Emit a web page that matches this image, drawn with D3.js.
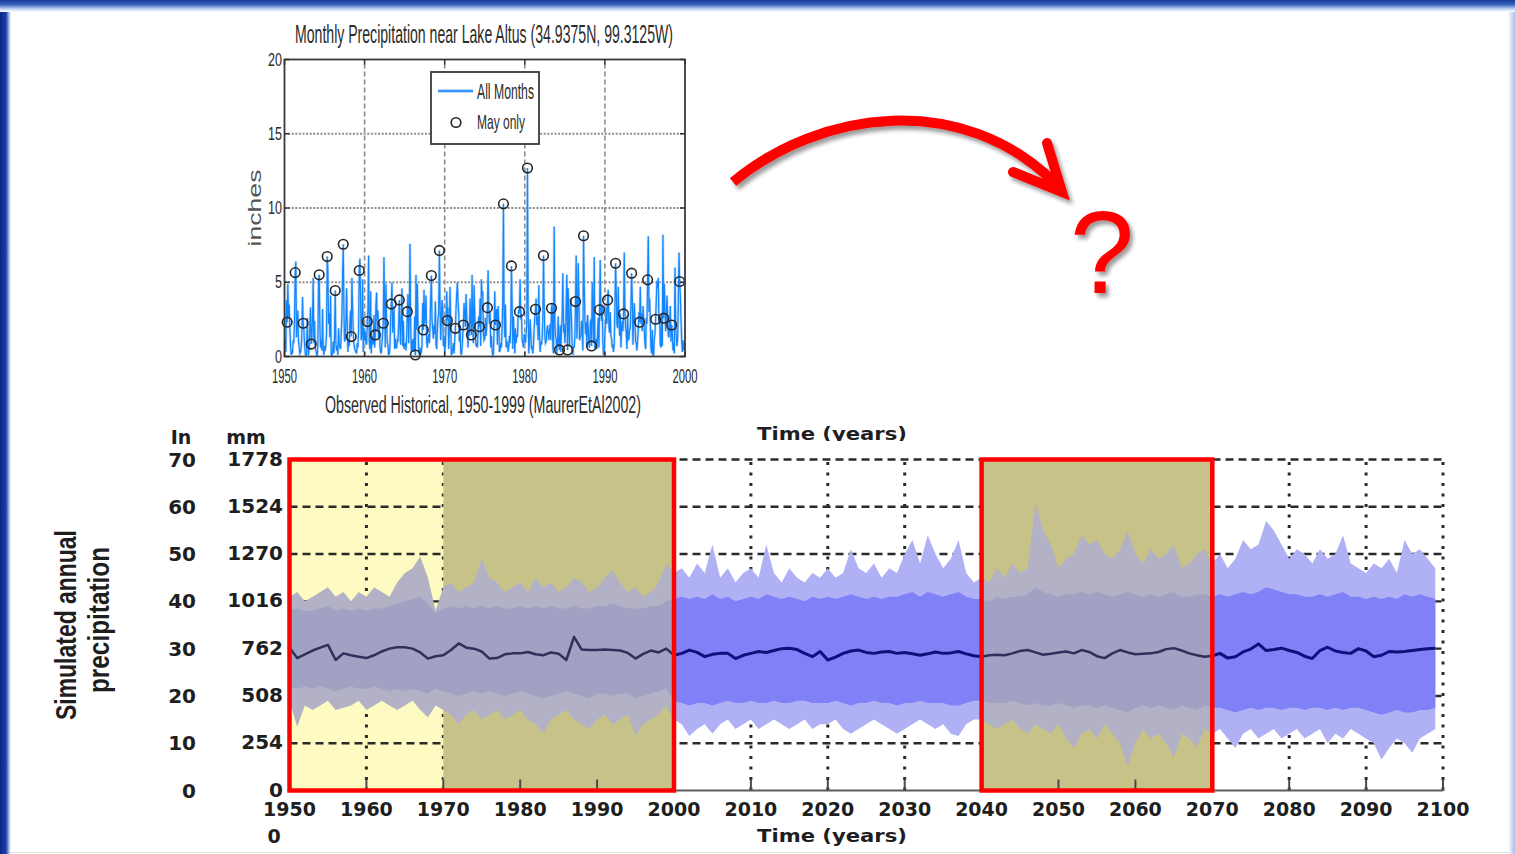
<!DOCTYPE html>
<html>
<head>
<meta charset="utf-8">
<script src="https://cdn.jsdelivr.net/npm/d3@7"></script>
<style>
  html, body { margin: 0; padding: 0; background: #ffffff; overflow: hidden; }
  svg { display: block; }
</style>
</head>
<body>
<svg id="slide" width="1515" height="854"></svg>
<script>
// ---------------- Observed monthly precipitation, Lake Altus (inches), Jan..Dec per year
const monthlyYears = d3.range(1950, 2000);
const monthlyPrecip = [
  [0.6,1.2,0.3,3.8,2.31,4.9,2.7,3.5,1.9,0.8,0.1,0.4],
  [0.2,1.1,0.9,2.4,5.65,6.4,1.3,2.2,3.1,1.0,0.7,0.2],
  [0.3,0.6,1.5,4.0,2.24,1.8,0.9,0.2,0.1,0.0,2.6,1.3],
  [0.1,0.5,2.1,3.3,0.84,1.2,2.8,5.3,0.9,2.4,0.6,0.4],
  [0.2,0.0,0.9,5.0,5.50,2.0,0.6,1.1,0.4,3.2,0.5,0.1],
  [0.7,0.4,0.8,1.6,6.73,5.9,2.2,2.9,1.3,4.1,0.2,0.0],
  [0.3,1.0,0.2,1.4,4.44,0.9,0.4,0.7,0.1,1.9,0.8,0.6],
  [0.5,1.6,2.6,5.4,7.56,3.1,1.0,1.2,2.4,4.6,2.0,0.3],
  [1.2,0.7,2.3,3.1,1.34,5.3,3.3,1.7,0.9,0.6,0.4,0.3],
  [0.2,0.9,0.6,1.8,5.79,6.6,3.8,1.1,1.5,5.2,0.3,1.9],
  [1.1,1.7,0.9,0.8,2.35,3.2,6.8,1.0,0.5,4.4,0.2,1.4],
  [0.8,0.9,2.8,0.6,1.45,3.5,4.3,1.7,3.1,1.2,2.3,0.7],
  [0.3,0.2,0.9,1.6,2.24,6.7,3.4,0.6,4.9,2.1,0.9,0.8],
  [0.1,0.2,0.7,2.5,3.54,5.0,1.6,2.3,3.4,0.5,1.2,0.6],
  [0.6,1.1,1.0,2.2,3.81,1.9,0.8,3.0,4.6,0.7,2.4,0.5],
  [0.7,0.9,0.4,1.3,3.02,4.2,0.9,2.8,7.6,2.3,0.3,1.1],
  [0.4,1.2,0.3,2.7,0.10,5.5,1.8,4.9,2.2,0.4,0.1,0.6],
  [0.2,0.3,0.8,3.6,1.79,4.5,2.2,2.9,4.1,1.0,0.6,1.3],
  [1.5,0.9,2.0,3.9,5.45,2.4,1.9,1.2,2.1,1.5,3.7,0.8],
  [0.5,1.8,2.6,2.9,7.14,3.6,1.1,2.6,3.8,3.3,0.7,1.4],
  [0.3,0.8,2.1,4.4,2.42,3.3,0.5,1.7,4.7,2.2,0.1,0.2],
  [0.5,0.9,0.2,1.1,1.90,3.2,4.2,5.0,3.7,2.9,1.0,2.1],
  [0.3,0.1,0.5,1.4,2.12,3.6,2.8,2.0,4.2,2.7,1.9,0.6],
  [2.0,1.4,3.9,2.5,1.45,5.5,2.1,0.9,4.8,3.0,1.3,0.7],
  [0.8,0.6,1.7,2.7,2.01,3.9,0.7,5.2,4.1,4.4,1.6,1.1],
  [1.2,2.6,1.4,2.0,3.29,5.8,3.3,2.2,3.0,0.6,1.4,0.4],
  [0.1,0.2,1.8,4.4,2.12,2.9,3.2,0.8,3.4,2.3,0.3,0.4],
  [0.9,0.6,1.9,3.8,10.28,2.7,1.3,3.5,0.6,1.0,0.9,0.3],
  [0.7,1.4,0.9,2.3,6.10,3.6,0.5,2.7,1.6,0.2,1.9,0.9],
  [1.5,1.3,2.8,3.1,3.02,5.2,2.5,2.9,1.1,0.9,0.6,1.5],
  [1.4,0.9,1.6,2.2,12.69,3.3,0.2,1.0,2.5,1.6,0.5,0.6],
  [0.2,0.8,1.9,2.6,3.18,3.9,2.1,2.7,1.1,4.8,1.5,0.3],
  [1.0,0.8,1.2,2.4,6.80,3.6,1.4,0.9,1.0,1.7,2.1,1.6],
  [1.1,1.8,2.2,1.1,3.25,3.6,0.6,0.2,8.75,2.4,1.3,1.2],
  [0.2,1.0,2.7,0.8,0.44,2.1,0.3,1.9,2.7,5.6,1.6,2.2],
  [0.9,1.5,3.5,5.5,0.44,4.6,1.8,0.7,3.9,3.4,2.4,0.7],
  [0.1,0.7,0.6,1.3,3.70,6.8,1.2,2.7,6.3,4.1,1.1,1.3],
  [1.4,2.4,1.7,0.4,8.13,4.9,2.6,1.5,2.3,0.6,2.8,1.9],
  [0.8,0.6,2.1,2.5,0.71,5.0,3.1,0.9,6.7,0.5,0.7,1.2],
  [0.5,1.5,2.6,0.6,3.14,6.5,2.8,2.4,3.5,0.9,0.1,0.3],
  [1.6,2.3,3.3,2.2,3.81,4.5,2.0,1.6,3.0,1.4,1.2,0.6],
  [0.7,0.3,0.9,3.3,6.28,4.4,2.2,1.9,4.7,2.6,1.4,2.9],
  [0.6,1.9,2.4,1.7,2.87,7.0,3.1,2.0,1.6,0.5,2.8,1.1],
  [1.2,1.8,1.9,3.4,5.61,4.0,0.8,2.3,3.6,2.5,1.0,0.9],
  [0.4,1.1,1.8,3.0,2.31,4.7,2.2,2.9,1.7,3.4,2.6,1.8],
  [0.9,0.5,2.6,2.2,5.16,8.1,3.0,3.9,2.3,0.6,0.2,1.8],
  [0.1,0.0,1.2,1.5,2.51,3.8,5.1,4.6,5.3,2.2,2.6,0.8],
  [0.6,2.9,0.7,8.2,2.58,4.9,3.3,1.7,2.6,4.1,2.8,1.4],
  [1.3,2.2,3.4,1.0,2.12,1.6,0.4,0.9,0.2,6.0,2.4,1.2],
  [0.7,1.3,3.6,7.0,5.05,4.1,2.5,1.2,0.3,1.1,0.4,0.9]
];
const mayIndex = 4;
const topYearTicks = [1950, 1960, 1970, 1980, 1990, 2000];
const topValueTicks = [0, 5, 10, 15, 20];

// ---------------- Simulated annual precipitation ensemble (inches), 1950..2099
const simYears = d3.range(1950, 2100);
const simPeakHi = [
  41,42,40,41,42,43,41,42,40,42, 41,43,42,41,44,46,47,49.5,45,38,
  43,44,42,43,44,49,45,44,42,43, 44,42,45,43,44,42,43,45,44,42,
  43,45,46.5,44,42,43,41,42,44,48, 46,47,45,48,46,52,45,47,44,46,
  47,45,52,46,44,47,45,44,46,45, 47,45,46,51,47,46,48,45,47,46,
  50,53,48,54,50,47,49,53,46,44, 45,44,47,45,48,46,47,61,55,52,
  47,49,50,54,52,53,50,49,51,55, 50,48,51,49,50,52,47,48,50,51,
  48,50,47,49,53,51,52,57,55,52, 49,51,50,48,51,49,50,54,48,47,
  46,48,47,49,46,53,50,51,49,47
];
const simCoreHi = [
  38,38.5,38,38,38.5,39,38,38.5,38,38.5, 38,38.5,38.5,39,39.5,40,40.5,41,39.5,37.5,
  38.5,39,38.5,39,38.5,39,38.5,39,38.5,38.5, 39,38.5,39,38.5,39,38.5,38.5,39,38.5,38.5,
  39,39,39.5,39,38.5,38.5,38.5,39,39,40, 40.5,41,40.5,41,40.5,41.5,40.5,41,40,40.5,
  41,40.5,41.5,41,40.5,41,40.5,40,41,40.5, 41,40.5,41,41.5,41,40.5,41,40.5,41,41,
  41.5,42,41,42,41.5,41,41.5,42,41,40.5, 40.5,40,41,40.5,41,41,41.5,43,42,41.5,
  41,41.5,41.5,42,41.5,42,41.5,41,41.5,42, 41.5,41,41.5,41,41.5,42,41,41,41.5,41.5,
  41,41.5,41,41.5,42,41.5,42,43,42.5,42, 41.5,41.5,41,41,41.5,41,41.5,42,41,41,
  40.5,41,40.5,41,40.5,41.5,41,41.5,41,40.5
];
const simCoreLo = [
  22,21.5,22,21.5,22,21.5,21,21.5,22,21.5, 21.5,22,21.5,21,21.5,21,21.5,21,20.5,21.5,
  21,20.5,20,20.5,21,20.5,21,20.5,20,20.5, 21,20.5,20,19.5,20,20.5,21,20.5,20,19.5,
  20.5,20.5,20,20.5,20.5,19.5,20,20.5,21,21.5, 19,18.5,18,18.5,18.5,18,18.5,19,18.5,18.5,
  19,18.5,18.5,19,18.5,18.5,19,19,18.5,18.5, 18.5,19,18.5,18,18.5,18.5,19,18.5,18.5,18,
  18.5,18.5,19,18.5,18.5,18.5,18,18,18.5,19, 19,18.5,18.5,18.5,19,18.5,18,18.5,18,18,
  18.5,18,17.5,18,18,17.5,18,17.5,17,16.5, 17.5,18,17.5,18,17.5,17,18,17.5,17,18,
  17.5,17.5,17,16.5,17,17.5,17,17.5,17.5,17, 17.5,17.5,17,17.5,17.5,17,17.5,17,17.5,17.5,
  17,16.5,16,16.5,17,16.5,16.5,17,17,17.5
];
const simPeakLo = [
  19,13.5,18,17,18,19,17,17.5,18,19, 17,18,19,18,17,18,19,17,15.5,18,
  17,16,14,16,17,15,16,17,15,16, 17,15,14,12,15,16,17,15,14,13,
  15,16,14,15,16,11.5,14,15,16,18, 15,14,11.5,13,14,12,14,15,13,14,
  15,13,14,15,14,13,14,15,13,14, 14,15,13,12,13,14,15,14,13,12,
  13,14,15,14,13,14,12,11.5,14,15, 15,14,13,14,15,13,12,14,13,12,
  14,11,9,12,13,11,14,12,10,5, 10,13,11,12,10,7,12,11,9,13,
  12,13,11,9,12,13,11,12,13,11, 12,13,11,12,13,10,12,11,13,12,
  11,10,6.5,9,11,10,8,11,12,13
];
const simMean = [
  30.2,28.0,28.8,29.6,30.2,30.8,27.6,29.0,28.6,28.3, 28.0,28.6,29.4,30.0,30.3,30.3,30.0,29.2,27.9,28.4,
  28.6,29.7,31.1,30.2,30.0,29.4,27.9,28.0,28.8,29.0, 29.0,29.3,28.8,28.6,29.2,28.9,27.6,32.5,29.8,29.7,
  29.7,29.8,29.7,29.6,29.1,27.9,28.9,29.6,29.2,30.0, 28.6,29.0,29.7,29.2,28.3,28.8,29.0,29.0,27.9,28.6,
  29.0,29.4,29.2,29.6,30.0,30.1,29.8,29.0,28.3,29.4, 27.6,28.2,29.0,29.5,29.7,29.2,29.0,29.3,29.4,29.0,
  29.2,28.9,28.6,28.9,29.3,29.0,29.1,29.4,28.9,28.5, 28.3,28.6,28.7,28.6,29.0,29.5,29.7,29.2,28.7,28.9,
  29.2,29.4,29.0,29.7,29.3,28.4,28.0,29.0,29.7,29.2, 28.8,28.9,29.0,29.3,29.9,30.1,29.6,29.0,28.6,28.3,
  28.5,29.0,28.0,28.3,29.3,29.9,31.0,29.6,29.8,30.1, 29.6,29.2,28.4,27.9,29.6,30.3,29.5,29.2,29.0,30.0,
  29.5,28.3,28.6,29.4,29.3,29.4,29.6,29.8,30.0,30.1
];
const simYearTicks = d3.range(1950, 2101, 10);
const inchTicks = [0, 10, 20, 30, 40, 50, 60, 70];
const mmTicks = [0, 254, 508, 762, 1016, 1270, 1524, 1778];
const highlightPeriods = [[1950, 2000], [2040, 2070]];
const paleSpan = [1950, 1970];
const oliveSpans = [[1970, 2000], [2040, 2070]];
const openSpans = [[2000, 2040], [2070, 2100]];

// ---------------- Drawing
const W = 1515, H = 854;
const svg = d3.select('#slide');
const defs = svg.append('defs');

// slide frame
function gradient(id, horizontal, stops) {
  const g = defs.append('linearGradient').attr('id', id)
    .attr('x1', 0).attr('y1', 0).attr('x2', horizontal ? 1 : 0).attr('y2', horizontal ? 0 : 1);
  stops.forEach(([o, c]) => g.append('stop').attr('offset', o).attr('stop-color', c));
}
gradient('frameTop', false, [['0%', '#173896'], ['40%', '#3a68c2'], ['75%', '#c3d4f1'], ['100%', '#ffffff']]);
gradient('frameLeft', true, [['0%', '#0a2686'], ['55%', '#1b3fa6'], ['80%', '#9fb3e2'], ['100%', '#ffffff']]);
gradient('frameRight', true, [['0%', '#ffffff'], ['100%', '#a8bde6']]);
svg.append('rect').attr('x', 0).attr('y', 0).attr('width', 11).attr('height', H).attr('fill', 'url(#frameLeft)');
svg.append('rect').attr('x', W - 7).attr('y', 0).attr('width', 7).attr('height', H).attr('fill', 'url(#frameRight)');
svg.append('rect').attr('x', 0).attr('y', 0).attr('width', W).attr('height', 12).attr('fill', 'url(#frameTop)');
svg.append('line').attr('x1', 10).attr('x2', W - 6).attr('y1', 852.5).attr('y2', 852.5)
  .attr('stroke', '#e2e2e2').attr('stroke-width', 1);

// soft drop shadow for the red arrow and question mark
const shadow = defs.append('filter').attr('id', 'dropShadow')
  .attr('x', '-10%').attr('y', '-20%').attr('width', '130%').attr('height', '150%');
shadow.append('feGaussianBlur').attr('in', 'SourceAlpha').attr('stdDeviation', 2.2).attr('result', 'b');
shadow.append('feOffset').attr('in', 'b').attr('dx', 3).attr('dy', 4).attr('result', 'o');
shadow.append('feComponentTransfer').attr('in', 'o').attr('result', 's')
  .append('feFuncA').attr('type', 'linear').attr('slope', 0.4);
const merge = shadow.append('feMerge');
merge.append('feMergeNode').attr('in', 's');
merge.append('feMergeNode').attr('in', 'SourceGraphic');

// ================= Top panel: observed monthly precipitation
const narrow = '"Liberation Sans Narrow", "Liberation Sans", Arial, sans-serif';
const xT = d3.scaleLinear().domain([1950, 2000]).range([284.5, 685]);
const yT = d3.scaleLinear().domain([0, 20]).range([356.5, 59.5]);
const topG = svg.append('g');

topG.selectAll('line.hgrid').data(topValueTicks.filter(v => v > 0 && v < 20)).join('line')
  .attr('class', 'hgrid')
  .attr('x1', xT(1950)).attr('x2', xT(2000)).attr('y1', d => yT(d)).attr('y2', d => yT(d))
  .attr('stroke', '#8c8c8c').attr('stroke-width', 2.2).attr('stroke-dasharray', '2,1.6');
topG.selectAll('line.vgrid').data(topYearTicks.filter(v => v > 1950 && v < 2000)).join('line')
  .attr('class', 'vgrid')
  .attr('x1', d => xT(d)).attr('x2', d => xT(d)).attr('y1', yT(0)).attr('y2', yT(20))
  .attr('stroke', '#8c8c8c').attr('stroke-width', 1.6).attr('stroke-dasharray', '5,3');

const monthlyPoints = monthlyPrecip.flatMap((row, i) =>
  row.map((v, m) => ({ t: monthlyYears[i] + m / 12, v })));
const monthLine = d3.line().x(d => xT(d.t)).y(d => yT(d.v));
topG.append('path').datum(monthlyPoints).attr('d', monthLine)
  .attr('fill', 'none').attr('stroke', '#a9cdf2').attr('stroke-width', 2.6).attr('opacity', 0.75);
topG.append('path').datum(monthlyPoints).attr('d', monthLine)
  .attr('fill', 'none').attr('stroke', '#1285ff').attr('stroke-width', 1.2);

const mayPoints = monthlyPrecip.map((row, i) => ({ t: monthlyYears[i] + mayIndex / 12, v: row[mayIndex] }));
topG.selectAll('circle.may').data(mayPoints).join('circle')
  .attr('class', 'may')
  .attr('cx', d => xT(d.t)).attr('cy', d => yT(d.v)).attr('r', 4.8)
  .attr('fill', 'none').attr('stroke', '#262626').attr('stroke-width', 1.6);

// axes box and inward ticks
topG.append('rect').attr('x', xT(1950)).attr('y', yT(20))
  .attr('width', xT(2000) - xT(1950)).attr('height', yT(0) - yT(20))
  .attr('fill', 'none').attr('stroke', '#3a3a3a').attr('stroke-width', 1.8);
topYearTicks.forEach(t => {
  topG.append('line').attr('x1', xT(t)).attr('x2', xT(t)).attr('y1', yT(0)).attr('y2', yT(0) - 5)
    .attr('stroke', '#333').attr('stroke-width', 1.5);
  topG.append('line').attr('x1', xT(t)).attr('x2', xT(t)).attr('y1', yT(20)).attr('y2', yT(20) + 5)
    .attr('stroke', '#333').attr('stroke-width', 1.5);
});
topValueTicks.forEach(v => {
  topG.append('line').attr('x1', xT(1950)).attr('x2', xT(1950) + 5).attr('y1', yT(v)).attr('y2', yT(v))
    .attr('stroke', '#333').attr('stroke-width', 1.5);
  topG.append('line').attr('x1', xT(2000)).attr('x2', xT(2000) - 5).attr('y1', yT(v)).attr('y2', yT(v))
    .attr('stroke', '#333').attr('stroke-width', 1.5);
});

topG.selectAll('text.ytick').data(topValueTicks).join('text')
  .attr('class', 'ytick')
  .attr('x', 282).attr('y', d => yT(d) + 6)
  .attr('text-anchor', 'end').attr('font-family', narrow).attr('font-size', 19)
  .attr('textLength', d => String(d).length * 7).attr('lengthAdjust', 'spacingAndGlyphs')
  .attr('fill', '#2b2b2b').text(d => d);
topG.selectAll('text.xtick').data(topYearTicks).join('text')
  .attr('class', 'xtick')
  .attr('x', d => xT(d)).attr('y', 383)
  .attr('text-anchor', 'middle').attr('font-family', narrow).attr('font-size', 20)
  .attr('textLength', 25).attr('lengthAdjust', 'spacingAndGlyphs')
  .attr('fill', '#2b2b2b').text(d => d);

topG.append('text').attr('x', 484).attr('y', 43).attr('text-anchor', 'middle')
  .attr('font-family', narrow).attr('font-size', 25)
  .attr('textLength', 378).attr('lengthAdjust', 'spacingAndGlyphs').attr('fill', '#2b2b2b')
  .text('Monthly Precipitation near Lake Altus (34.9375N, 99.3125W)');
topG.append('text').attr('x', 483).attr('y', 413).attr('text-anchor', 'middle')
  .attr('font-family', narrow).attr('font-size', 23)
  .attr('textLength', 316).attr('lengthAdjust', 'spacingAndGlyphs').attr('fill', '#2b2b2b')
  .text('Observed Historical, 1950-1999 (MaurerEtAl2002)');
topG.append('text').attr('transform', 'translate(261,208) rotate(-90)').attr('text-anchor', 'middle')
  .attr('font-family', '"Liberation Sans", Arial, sans-serif').attr('font-size', 19)
  .attr('textLength', 77).attr('lengthAdjust', 'spacingAndGlyphs').attr('fill', '#555')
  .text('inches');

// legend
const lg = topG.append('g');
lg.append('rect').attr('x', 431).attr('y', 72).attr('width', 108).attr('height', 72)
  .attr('fill', '#ffffff').attr('stroke', '#3a3a3a').attr('stroke-width', 1.8);
lg.append('line').attr('x1', 438).attr('x2', 473).attr('y1', 91).attr('y2', 91)
  .attr('stroke', '#a9cdf2').attr('stroke-width', 3.4);
lg.append('line').attr('x1', 438).attr('x2', 473).attr('y1', 91).attr('y2', 91)
  .attr('stroke', '#1285ff').attr('stroke-width', 1.5);
lg.append('circle').attr('cx', 456).attr('cy', 122.5).attr('r', 4.8)
  .attr('fill', 'none').attr('stroke', '#262626').attr('stroke-width', 1.6);
lg.append('text').attr('x', 477).attr('y', 99).attr('font-family', narrow).attr('font-size', 22)
  .attr('textLength', 57).attr('lengthAdjust', 'spacingAndGlyphs').attr('fill', '#2b2b2b').text('All Months');
lg.append('text').attr('x', 477).attr('y', 129).attr('font-family', narrow).attr('font-size', 21)
  .attr('textLength', 48).attr('lengthAdjust', 'spacingAndGlyphs').attr('fill', '#2b2b2b').text('May only');

// ================= Arrow and question mark
const arrowPath = 'M733,182 C820,110 962,90 1056,184';
const headPath = 'M1013,172 L1062,192 L1047,143';
const arrowG = svg.append('g').attr('filter', 'url(#dropShadow)');
arrowG.append('path').attr('d', arrowPath).attr('fill', 'none').attr('stroke', '#ff0000').attr('stroke-width', 10);
arrowG.append('path').attr('d', headPath).attr('fill', 'none').attr('stroke', '#ff0000').attr('stroke-width', 10)
  .attr('stroke-linecap', 'round');
arrowG.append('text').attr('x', 1102).attr('y', 293).attr('text-anchor', 'middle')
  .attr('font-family', '"Liberation Sans", Arial, sans-serif').attr('font-size', 116).attr('fill', '#ff0000').text('?');

// ================= Bottom panel: simulated annual precipitation
const bold = '"DejaVu Sans", Verdana, sans-serif';
const xB = d3.scaleLinear().domain([1950, 2100]).range([289.5, 1443]);
const yB = d3.scaleLinear().domain([0, 70]).range([790.5, 459.5]);
const botG = svg.append('g');

// pale and olive backgrounds (grid shows through the pale span only)
botG.append('rect').attr('x', xB(paleSpan[0])).attr('y', yB(70))
  .attr('width', xB(paleSpan[1]) - xB(paleSpan[0])).attr('height', yB(0) - yB(70)).attr('fill', '#fdfbc1');

botG.selectAll('line.hgridB').data(inchTicks.filter(v => v > 0)).join('line')
  .attr('class', 'hgridB')
  .attr('x1', xB(1950)).attr('x2', xB(2100)).attr('y1', d => yB(d)).attr('y2', d => yB(d))
  .attr('stroke', '#2a2a2a').attr('stroke-width', 2.4).attr('stroke-dasharray', '8,5');
botG.selectAll('line.vgridB').data(simYearTicks.filter(v => v > 1950)).join('line')
  .attr('class', 'vgridB')
  .attr('x1', d => xB(d)).attr('x2', d => xB(d)).attr('y1', yB(0)).attr('y2', yB(70))
  .attr('stroke', '#2a2a2a').attr('stroke-width', 3).attr('stroke-dasharray', '3,7.5');

botG.selectAll('rect.olive').data(oliveSpans).join('rect')
  .attr('class', 'olive')
  .attr('x', d => xB(d[0])).attr('y', yB(70))
  .attr('width', d => xB(d[1]) - xB(d[0])).attr('height', yB(0) - yB(70)).attr('fill', '#c7c388');

// bottom axis
botG.append('line').attr('x1', xB(1950)).attr('x2', xB(2100)).attr('y1', yB(0)).attr('y2', yB(0))
  .attr('stroke', '#5c5c5c').attr('stroke-width', 2);
botG.selectAll('line.tickB').data(simYearTicks).join('line')
  .attr('class', 'tickB')
  .attr('x1', d => xB(d)).attr('x2', d => xB(d)).attr('y1', yB(0)).attr('y2', yB(0) - 11)
  .attr('stroke', '#4a4a4a').attr('stroke-width', 2);

// ensemble band, coloured by period
function spansClip(id, spans) {
  const cp = defs.append('clipPath').attr('id', id);
  spans.forEach(s => cp.append('rect').attr('x', xB(s[0])).attr('y', 440)
    .attr('width', xB(s[1]) - xB(s[0])).attr('height', 360));
}
spansClip('clipShaded', highlightPeriods);
spansClip('clipOpen', openSpans);

const idx = simYears.map((y, i) => i);
const fringeArea = d3.area().x(i => xB(simYears[i])).y0(i => yB(simPeakLo[i])).y1(i => yB(simPeakHi[i]));
const coreArea = d3.area().x(i => xB(simYears[i])).y0(i => yB(simCoreLo[i])).y1(i => yB(simCoreHi[i]));
const meanLine = d3.line().x(i => xB(simYears[i])).y(i => yB(simMean[i]));

function drawBand(clipId, pal) {
  const g = botG.append('g').attr('clip-path', `url(#${clipId})`);
  g.append('path').datum(idx).attr('d', fringeArea).attr('fill', pal.fringe);
  g.append('path').datum(idx).attr('d', coreArea).attr('fill', pal.core);
  g.append('path').datum(idx).attr('d', meanLine).attr('fill', 'none')
    .attr('stroke', pal.mean).attr('stroke-width', pal.meanWidth).attr('stroke-linejoin', 'round');
}
drawBand('clipOpen', { fringe: '#b0b0f4', core: '#8080f7', mean: '#10107c', meanWidth: 3 });
drawBand('clipShaded', { fringe: '#b2b1c6', core: '#a1a1c4', mean: '#30305c', meanWidth: 2.5 });

// red frames around the compared periods
botG.selectAll('rect.period').data(highlightPeriods).join('rect')
  .attr('class', 'period')
  .attr('x', d => xB(d[0])).attr('y', yB(70))
  .attr('width', d => xB(d[1]) - xB(d[0])).attr('height', yB(0) - yB(70))
  .attr('fill', 'none').attr('stroke', '#ff0000').attr('stroke-width', 4.5);

// tick labels
const lbl = { 'font-family': bold, 'font-weight': 'bold', 'font-size': 20, fill: '#1e1e1e' };
function styleText(sel, extra) {
  Object.entries(Object.assign({}, lbl, extra || {})).forEach(([k, v]) => sel.attr(k, v));
  return sel;
}
styleText(botG.selectAll('text.inch').data(inchTicks).join('text').attr('class', 'inch')
  .attr('x', 196).attr('y', d => yB(d) + 7).attr('text-anchor', 'end').text(d => d));
styleText(botG.selectAll('text.mm').data(mmTicks).join('text').attr('class', 'mm')
  .attr('x', 283).attr('y', (d, i) => yB(inchTicks[i]) + 6).attr('text-anchor', 'end').text(d => d));
styleText(botG.append('text').attr('x', 181).attr('y', 444).attr('text-anchor', 'middle').text('In'), { 'font-size': 19 });
styleText(botG.append('text').attr('x', 246).attr('y', 444).attr('text-anchor', 'middle').text('mm'), { 'font-size': 19 });
styleText(botG.selectAll('text.yearB').data(simYearTicks).join('text').attr('class', 'yearB')
  .attr('x', d => xB(d)).attr('y', 816).attr('text-anchor', 'middle').text(d => d), { 'font-size': 19 });
styleText(botG.append('text').attr('x', 274).attr('y', 843).attr('text-anchor', 'middle').text('0'), { 'font-size': 19 });

styleText(botG.append('text').attr('x', 832).attr('y', 842).attr('text-anchor', 'middle')
  .attr('textLength', 150).attr('lengthAdjust', 'spacingAndGlyphs').text('Time (years)'), { 'font-size': 18 });
defs.append('clipPath').attr('id', 'clipTitle').append('rect').attr('x', 700).attr('y', 420).attr('width', 260).attr('height', 21);
styleText(botG.append('text').attr('x', 832).attr('y', 440).attr('text-anchor', 'middle')
  .attr('clip-path', 'url(#clipTitle)')
  .attr('textLength', 150).attr('lengthAdjust', 'spacingAndGlyphs').text('Time (years)'), { 'font-size': 18 });

// y-axis title
const titleFont = '"Liberation Sans Narrow", "Liberation Sans", Arial, sans-serif';
botG.append('text').attr('transform', 'translate(76,625) rotate(-90)').attr('text-anchor', 'middle')
  .attr('font-family', titleFont).attr('font-weight', 'bold').attr('font-size', 30)
  .attr('textLength', 190).attr('lengthAdjust', 'spacingAndGlyphs').attr('fill', '#1e1e1e')
  .text('Simulated annual');
botG.append('text').attr('transform', 'translate(109,620) rotate(-90)').attr('text-anchor', 'middle')
  .attr('font-family', titleFont).attr('font-weight', 'bold').attr('font-size', 30)
  .attr('textLength', 146).attr('lengthAdjust', 'spacingAndGlyphs').attr('fill', '#1e1e1e')
  .text('precipitation');
</script>
</body>
</html>
